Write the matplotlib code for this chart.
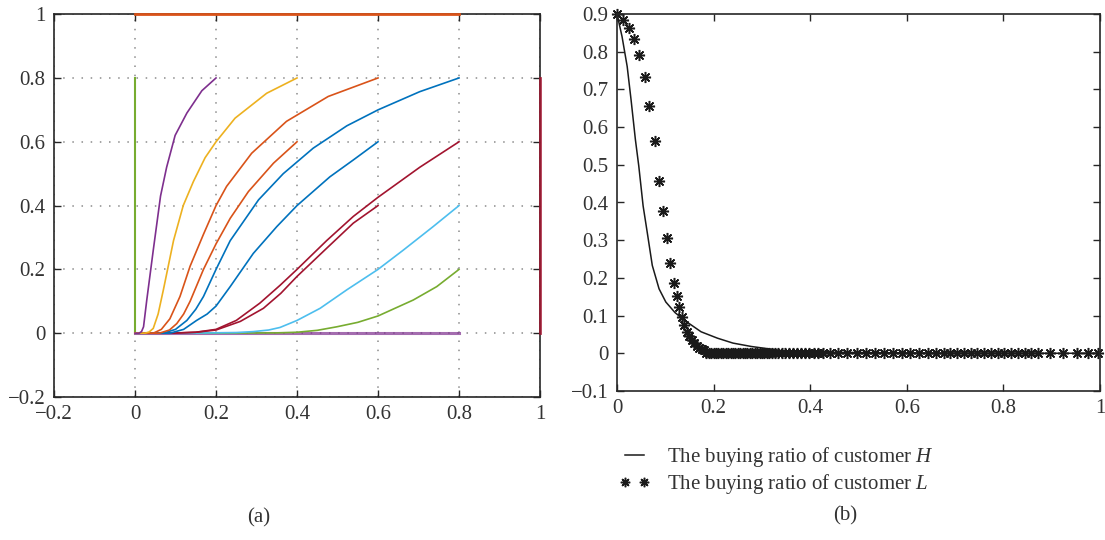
import numpy as np
import matplotlib
matplotlib.use("Agg")
import matplotlib.pyplot as plt

# ============================================================
# datos
# ============================================================

# (a) familia de curvas: (x, y) de cada curva
purple_x = [0, 0.01, 0.016, 0.021, 0.029, 0.045, 0.063, 0.078, 0.099, 0.128, 0.165, 0.2]
purple_y = [0, 0, 0.005, 0.02, 0.104, 0.26, 0.43, 0.52, 0.62, 0.69, 0.76, 0.8]

yellow_x = [0, 0.025, 0.035, 0.045, 0.057, 0.07, 0.095, 0.119, 0.144, 0.173, 0.2, 0.247, 0.325, 0.4]
yellow_y = [0, 0, 0.004, 0.015, 0.06, 0.136, 0.29, 0.40, 0.475, 0.55, 0.6, 0.674, 0.752, 0.8]

orange1_x = [0, 0.045, 0.065, 0.086, 0.111, 0.136, 0.169, 0.2, 0.226, 0.288, 0.374, 0.477, 0.6]
orange1_y = [0, 0, 0.012, 0.045, 0.115, 0.21, 0.31, 0.40, 0.46, 0.564, 0.664, 0.742, 0.8]

orange2_x = [0, 0.06, 0.085, 0.103, 0.12, 0.136, 0.169, 0.2, 0.235, 0.28, 0.342, 0.4]
orange2_y = [0, 0, 0.01, 0.03, 0.06, 0.10, 0.20, 0.28, 0.36, 0.444, 0.533, 0.6]

blue1_x = [0, 0.07, 0.1, 0.128, 0.15, 0.169, 0.2, 0.235, 0.305, 0.366, 0.44, 0.523, 0.6, 0.703, 0.8]
blue1_y = [0, 0, 0.012, 0.04, 0.075, 0.115, 0.2, 0.29, 0.418, 0.50, 0.58, 0.65, 0.70, 0.757, 0.8]

blue2_x = [0, 0.086, 0.12, 0.152, 0.178, 0.2, 0.235, 0.292, 0.35, 0.4, 0.481, 0.539, 0.6]
blue2_y = [0, 0, 0.012, 0.04, 0.06, 0.085, 0.146, 0.25, 0.334, 0.40, 0.49, 0.543, 0.6]

red1_x = [0, 0.086, 0.15, 0.2, 0.25, 0.308, 0.358, 0.4, 0.473, 0.539, 0.6, 0.703, 0.8]
red1_y = [0, 0, 0.003, 0.012, 0.04, 0.094, 0.15, 0.2, 0.29, 0.366, 0.426, 0.52, 0.6]

red2_x = [0, 0.095, 0.15, 0.2, 0.26, 0.317, 0.36, 0.4, 0.473, 0.539, 0.6]
red2_y = [0, 0, 0.003, 0.01, 0.037, 0.078, 0.125, 0.178, 0.266, 0.345, 0.4]

cyan_x = [0, 0.128, 0.25, 0.292, 0.33, 0.358, 0.4, 0.457, 0.523, 0.6, 0.662, 0.736, 0.8]
cyan_y = [0, 0, 0.002, 0.005, 0.01, 0.018, 0.04, 0.078, 0.136, 0.2, 0.26, 0.334, 0.4]

green_x = [0, 0.169, 0.35, 0.4, 0.45, 0.498, 0.55, 0.6, 0.687, 0.745, 0.8]
green_y = [0, 0, 0.001, 0.003, 0.009, 0.02, 0.034, 0.054, 0.104, 0.146, 0.2]

# (b) proporcion de compra
h_x = [0, 0.0104, 0.021, 0.029, 0.038, 0.045, 0.054, 0.0625, 0.073, 0.087, 0.101,
       0.12, 0.139, 0.174, 0.208, 0.24, 0.278, 0.347, 0.417, 0.6, 0.8, 1.0]
h_y = [0.9, 0.84, 0.761, 0.673, 0.567, 0.497, 0.391, 0.321, 0.233, 0.171, 0.136,
       0.108, 0.088, 0.057, 0.04, 0.027, 0.018, 0.006, 0.003, 0.001, 0.0, 0.0]

l_x = [0, 0.0125, 0.0243, 0.0347, 0.045, 0.057, 0.066, 0.078, 0.0875, 0.096, 0.104,
       0.11, 0.117, 0.124, 0.128, 0.134, 0.139, 0.144, 0.15, 0.155, 0.16, 0.165,
       0.17, 0.175, 0.18]
l_y = [0.9, 0.884, 0.862, 0.833, 0.792, 0.734, 0.657, 0.563, 0.456, 0.378, 0.307,
       0.24, 0.186, 0.152, 0.123, 0.097, 0.075, 0.057, 0.045, 0.035, 0.027, 0.02,
       0.015, 0.011, 0.008]

# estrellas sobre y = 0
l0_x = [0.185, 0.19, 0.195, 0.2, 0.205, 0.21, 0.215, 0.22, 0.225, 0.23, 0.235, 0.24,
        0.245, 0.25, 0.255, 0.26, 0.265, 0.27, 0.275, 0.28, 0.285, 0.29, 0.295, 0.30,
        0.305, 0.31, 0.315, 0.32, 0.327, 0.334, 0.341, 0.348, 0.356, 0.364, 0.372,
        0.38, 0.389, 0.398, 0.407, 0.417, 0.427, 0.44, 0.458, 0.477, 0.496, 0.515,
        0.534, 0.553, 0.571, 0.589, 0.607, 0.625, 0.643, 0.661, 0.677, 0.69, 0.704,
        0.718, 0.732, 0.746, 0.76, 0.774, 0.788, 0.802, 0.816, 0.83, 0.844, 0.858,
        0.872, 0.896, 0.923, 0.952, 0.975, 0.996]

ticks_a = [-0.2, 0, 0.2, 0.4, 0.6, 0.8, 1]
ticks_bx = [0, 0.2, 0.4, 0.6, 0.8, 1]
ticks_by = [-0.1, 0, 0.1, 0.2, 0.3, 0.4, 0.5, 0.6, 0.7, 0.8, 0.9]

# ============================================================
# estilo
# ============================================================
plt.rcParams["font.family"] = ["Liberation Serif", "DejaVu Serif"]
plt.rcParams["mathtext.fontset"] = "custom"
plt.rcParams["mathtext.rm"] = "Liberation Serif"
plt.rcParams["mathtext.it"] = "Liberation Serif:italic"
plt.rcParams["axes.unicode_minus"] = True

BLUE, ORANGE, YELLOW = "#0072BD", "#D95319", "#EDB120"
PURPLE, GREEN, CYAN, DRED = "#7E2F8E", "#77AC30", "#4DBEEE", "#A2142F"
SPINE = "#262626"
TXT = "#333333"
FS = 15


def fmt(v):
    if v == 0:
        return "0"
    if v == 1:
        return "1"
    s = f"{abs(v):.1f}"
    return ("\u2212" if v < 0 else "") + s


fig = plt.figure(figsize=(11.05, 5.4), dpi=100)

# ------------------------------------------------------------
# (a)
# ------------------------------------------------------------
ax1 = fig.add_axes([0.0489, 0.2648, 0.4398, 0.709])
ax1.set_xlim(-0.2, 1)
ax1.set_ylim(-0.2, 1)
ax1.set_xticks(ticks_a)
ax1.set_yticks(ticks_a)
ax1.set_xticklabels([fmt(v) for v in ticks_a])
ax1.set_yticklabels([fmt(v) for v in ticks_a])
ax1.grid(True, linestyle=(0, (1, 5)), color="#8c8c8c", linewidth=1.1)

lw = 1.2
ax1.plot([0, 0.8], [0, 0], color=PURPLE, lw=2.2, alpha=0.7)
ax1.plot([0, 0], [0, 0.8], color=GREEN, lw=1.5)
ax1.plot([0, 0.8], [1, 1], color=ORANGE, lw=2.0, clip_on=False, zorder=5)
ax1.plot([1, 1], [0, 0.8], color=DRED, lw=2.0, clip_on=False, zorder=5, alpha=0.85)

ax1.plot(green_x, green_y, color=GREEN, lw=lw)
ax1.plot(cyan_x, cyan_y, color=CYAN, lw=lw)
ax1.plot(red2_x, red2_y, color=DRED, lw=lw)
ax1.plot(red1_x, red1_y, color=DRED, lw=lw)
ax1.plot(blue2_x, blue2_y, color=BLUE, lw=lw)
ax1.plot(blue1_x, blue1_y, color=BLUE, lw=lw)
ax1.plot(orange2_x, orange2_y, color=ORANGE, lw=lw)
ax1.plot(orange1_x, orange1_y, color=ORANGE, lw=lw)
ax1.plot(yellow_x, yellow_y, color=YELLOW, lw=lw)
ax1.plot(purple_x, purple_y, color=PURPLE, lw=lw)

# ------------------------------------------------------------
# (b)
# ------------------------------------------------------------
ax2 = fig.add_axes([0.5584, 0.276, 0.4371, 0.698])
ax2.set_xlim(0, 1)
ax2.set_ylim(-0.1, 0.9)
ax2.set_xticks(ticks_bx)
ax2.set_yticks(ticks_by)
ax2.set_xticklabels([fmt(v) for v in ticks_bx])
ax2.set_yticklabels([fmt(v) for v in ticks_by])

star = (8, 2, 0)
ax2.plot(h_x, h_y, color="#1a1a1a", lw=1.1,
         label=r"The buying ratio of customer $\mathit{H}$")
ax2.plot(l_x + l0_x, l_y + [0.0] * len(l0_x), linestyle="none", marker=star,
         markersize=8, markeredgewidth=1.1, color="#1a1a1a",
         label=r"The buying ratio of customer $\mathit{L}$", clip_on=False)

for ax in (ax1, ax2):
    for sp in ax.spines.values():
        sp.set_color(SPINE)
        sp.set_linewidth(1.2)
    ax.tick_params(direction="in", top=True, right=True, length=5, width=1,
                   labelsize=FS, colors=SPINE, labelcolor=TXT, pad=6)

fig.legend(loc="upper left", bbox_to_anchor=(0.543, 0.21), frameon=False,
           numpoints=2, handlelength=1.5, fontsize=FS, labelspacing=0.15,
           handletextpad=0.8, labelcolor=TXT, markerscale=0.85)

fig.text(0.234, 0.032, "(a)", ha="center", fontsize=FS, color=TXT)
fig.text(0.765, 0.037, "(b)", ha="center", fontsize=FS, color=TXT)

fig.savefig("out.png", dpi=100)
